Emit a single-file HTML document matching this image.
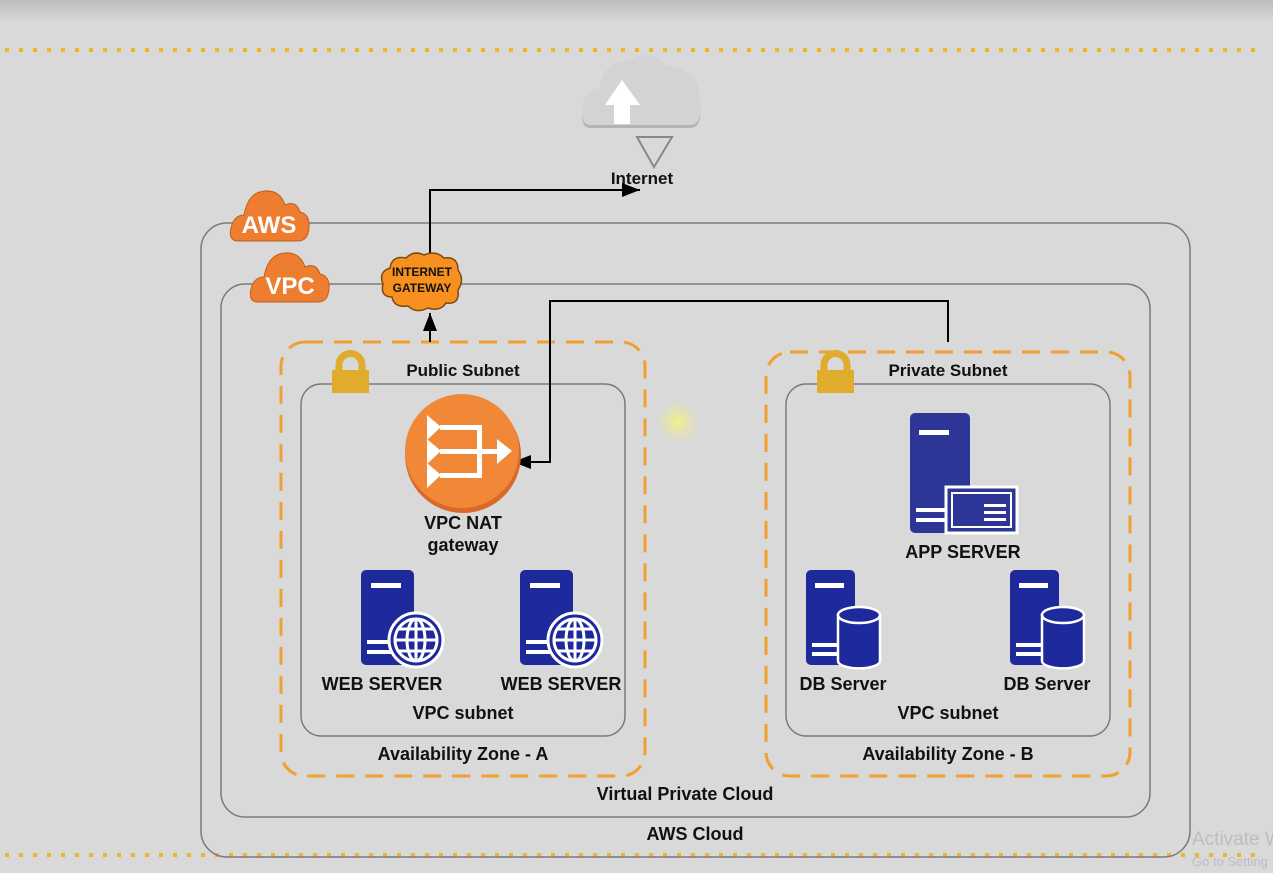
<!DOCTYPE html>
<html><head><meta charset="utf-8"><style>
html,body{margin:0;padding:0;width:1273px;height:873px;overflow:hidden;background:#d9d9d9;}
svg{display:block}
text{font-family:"Liberation Sans",Arial,sans-serif;font-weight:bold;fill:#111;}
</style></head><body>
<svg width="1273" height="873" viewBox="0 0 1273 873" xmlns="http://www.w3.org/2000/svg">
<defs>
<linearGradient id="tg" x1="0" y1="0" x2="0" y2="1"><stop offset="0" stop-color="#bcbcbc"/><stop offset="1" stop-color="#d9d9d9"/></linearGradient>
<radialGradient id="hl"><stop offset="0" stop-color="#f3f08a"/><stop offset="1" stop-color="#e6e6a0" stop-opacity="0"/></radialGradient>
<marker id="ar" markerWidth="20" markerHeight="16" refX="18" refY="7" orient="auto" markerUnits="userSpaceOnUse"><path d="M0,0 L18,7 L0,14 z" fill="#000"/></marker>
<g id="lock"><path d="M7,20 V13 a11.5,11.5 0 0 1 23,0 V20" fill="none" stroke="#e0ac2b" stroke-width="7"/><rect x="0" y="18" width="37" height="23" fill="#e0ac2b"/></g>
<g id="srv"><rect x="0" y="0" width="53" height="95" rx="5" fill="#1e2a9c"/><rect x="10" y="13" width="30" height="5" fill="#fff"/><rect x="6" y="70" width="30" height="4" fill="#fff"/><rect x="6" y="80" width="30" height="4" fill="#fff"/></g>
<g id="dbs"><rect x="0" y="0" width="49" height="95" rx="5" fill="#1e2a9c"/><rect x="9" y="13" width="29" height="5" fill="#fff"/><rect x="6" y="73" width="28" height="4" fill="#fff"/><rect x="6" y="82" width="28" height="4" fill="#fff"/>
<path d="M32,45 v46 a20,7 0 0 0 42,0 v-46 z" fill="#1e2a9c" stroke="#fff" stroke-width="2.5"/><ellipse cx="53" cy="45" rx="21" ry="8" fill="#1e2a9c" stroke="#fff" stroke-width="2.5"/></g>
<g id="globe"><circle r="27" fill="#1e2a9c" stroke="#fff" stroke-width="3"/><circle r="21" fill="none" stroke="#fff" stroke-width="3"/><ellipse rx="9" ry="21" fill="none" stroke="#fff" stroke-width="3"/><line x1="0" y1="-21" x2="0" y2="21" stroke="#fff" stroke-width="3"/><line x1="-21" y1="0" x2="21" y2="0" stroke="#fff" stroke-width="3"/><line x1="-17" y1="-11" x2="17" y2="-11" stroke="#fff" stroke-width="3"/><line x1="-17" y1="11" x2="17" y2="11" stroke="#fff" stroke-width="3"/></g>
</defs>
<rect width="1273" height="22" fill="url(#tg)"/>
<line x1="5" y1="50" x2="1265" y2="50" stroke="#f0b429" stroke-width="4" stroke-dasharray="4 10"/>
<line x1="5" y1="855" x2="1265" y2="855" stroke="#f0b429" stroke-width="4" stroke-dasharray="4 10"/>

<g>
<path d="M590,125 Q582,125 582,112 Q582,90 600,88 Q602,62 630,60 Q650,48 665,65 Q700,68 700,100 Q703,125 690,125 Z" fill="#b3b3b3" transform="translate(0,3)"/>
<path d="M590,125 Q582,125 582,112 Q582,90 600,88 Q602,62 630,60 Q650,48 665,65 Q700,68 700,100 Q703,125 690,125 Z" fill="#d3d3d3"/>
<path d="M622,80 L640,105 L630,105 L630,124 L614,124 L614,105 L605,105 Z" fill="#fff"/>
<path d="M637,137 L672,137 L654,167 Z" fill="none" stroke="#888" stroke-width="2"/>
</g>
<text x="642" y="184" font-size="17" text-anchor="middle">Internet</text>

<rect x="201" y="223" width="989" height="634" rx="26" fill="none" stroke="#7a7a7a" stroke-width="1.5"/>
<rect x="221" y="284" width="929" height="533" rx="24" fill="none" stroke="#7a7a7a" stroke-width="1.5"/>
<rect x="281" y="342" width="364" height="434" rx="24" fill="none" stroke="#f0a030" stroke-width="3" stroke-dasharray="18 11"/>
<rect x="766" y="352" width="364" height="424" rx="24" fill="none" stroke="#f0a030" stroke-width="3" stroke-dasharray="18 11"/>
<rect x="301" y="384" width="324" height="352" rx="20" fill="none" stroke="#7a7a7a" stroke-width="1.5"/>
<rect x="786" y="384" width="324" height="352" rx="20" fill="none" stroke="#7a7a7a" stroke-width="1.5"/>

<g fill="#ee7d2f">
<path d="M238,241 Q228,241 231,228 Q234,215 244,215 Q248,192 265,191 Q280,190 285,205 Q296,200 300,212 Q310,214 309,228 Q308,241 298,241 Z" stroke="#c0601f" stroke-width="1"/>
<path d="M258,302 Q248,302 251,289 Q254,277 264,277 Q268,254 285,253 Q300,252 305,267 Q316,262 320,274 Q330,276 329,289 Q328,302 318,302 Z" stroke="#c0601f" stroke-width="1"/>
</g>
<text x="269" y="233" font-size="24" text-anchor="middle" style="fill:#fff;font-family:'Liberation Sans Narrow','Liberation Sans',sans-serif">AWS</text>
<text x="290" y="294" font-size="24" text-anchor="middle" style="fill:#fff;font-family:'Liberation Sans Narrow','Liberation Sans',sans-serif">VPC</text>

<polyline points="430,255 430,190 640,190" fill="none" stroke="#000" stroke-width="2" marker-end="url(#ar)"/>
<line x1="430" y1="342" x2="430" y2="313" stroke="#000" stroke-width="2" marker-end="url(#ar)"/>
<polyline points="948,342 948,301 550,301 550,462 513,462" fill="none" stroke="#000" stroke-width="2" marker-end="url(#ar)"/>

<path d="M392,297 Q380,297 383,284 Q378,272 390,268 Q392,255 406,258 Q414,250 424,255 Q436,250 444,258 Q458,256 458,270 Q465,280 458,290 Q460,305 446,303 Q440,312 428,308 Q416,314 408,306 Q394,308 392,297 Z" fill="#f7901e" stroke="#7a4a10" stroke-width="1.5"/>
<text x="422" y="276" font-size="12" text-anchor="middle">INTERNET</text>
<text x="422" y="292" font-size="12" text-anchor="middle">GATEWAY</text>

<use href="#lock" x="332" y="352"/>
<use href="#lock" x="817" y="352"/>
<text x="463" y="376" font-size="17" text-anchor="middle">Public Subnet</text>
<text x="948" y="376" font-size="17" text-anchor="middle">Private Subnet</text>

<circle cx="678" cy="422" r="22" fill="url(#hl)"/>

<circle cx="463" cy="455" r="58" fill="#d8692a"/>
<circle cx="462" cy="451" r="57" fill="#f08838"/>
<g fill="#fff">
<rect x="440" y="425" width="42" height="5"/><rect x="440" y="449" width="62" height="5"/><rect x="440" y="473" width="42" height="5"/><rect x="477" y="425" width="5" height="53"/>
<path d="M427,415 L441,427 L427,440 Z"/><path d="M427,439 L441,451 L427,464 Z"/><path d="M427,463 L441,475 L427,488 Z"/>
<path d="M497,439 L512,451 L497,464 Z"/>
</g>
<text x="463" y="529" font-size="18" text-anchor="middle">VPC NAT</text>
<text x="463" y="551" font-size="18" text-anchor="middle">gateway</text>

<use href="#srv" x="361" y="570"/><use href="#globe" x="416" y="640"/>
<use href="#srv" x="520" y="570"/><use href="#globe" x="575" y="640"/>
<text x="382" y="690" font-size="18" text-anchor="middle">WEB SERVER</text>
<text x="561" y="690" font-size="18" text-anchor="middle">WEB SERVER</text>
<text x="463" y="719" font-size="18" text-anchor="middle">VPC subnet</text>
<text x="463" y="760" font-size="18" text-anchor="middle">Availability Zone - A</text>

<rect x="910" y="413" width="60" height="120" rx="5" fill="#2d3596"/>
<rect x="919" y="430" width="30" height="5" fill="#fff"/>
<rect x="916" y="508" width="30" height="4" fill="#fff"/><rect x="916" y="518" width="30" height="4" fill="#fff"/>
<rect x="946" y="487" width="71" height="46" fill="#2d3596" stroke="#fff" stroke-width="3"/>
<rect x="952" y="493" width="59" height="34" fill="none" stroke="#fff" stroke-width="2"/>
<rect x="956" y="504" width="20" height="19" fill="#2d3596" stroke="#fff" stroke-width="0"/>
<rect x="984" y="504" width="22" height="3" fill="#fff"/><rect x="984" y="511" width="22" height="3" fill="#fff"/><rect x="984" y="518" width="22" height="3" fill="#fff"/>
<text x="963" y="558" font-size="18" text-anchor="middle">APP SERVER</text>

<use href="#dbs" x="806" y="570"/>
<use href="#dbs" x="1010" y="570"/>
<text x="843" y="690" font-size="18" text-anchor="middle">DB Server</text>
<text x="1047" y="690" font-size="18" text-anchor="middle">DB Server</text>
<text x="948" y="719" font-size="18" text-anchor="middle">VPC subnet</text>
<text x="948" y="760" font-size="18" text-anchor="middle">Availability Zone - B</text>

<text x="685" y="800" font-size="18" text-anchor="middle">Virtual Private Cloud</text>
<text x="695" y="840" font-size="18" text-anchor="middle">AWS Cloud</text>

<text x="1192" y="845" font-size="19" style="font-weight:normal;fill:#bdbdbd">Activate W</text>
<text x="1192" y="866" font-size="13" style="font-weight:normal;fill:#bdbdbd">Go to Setting</text>
</svg>
</body></html>
